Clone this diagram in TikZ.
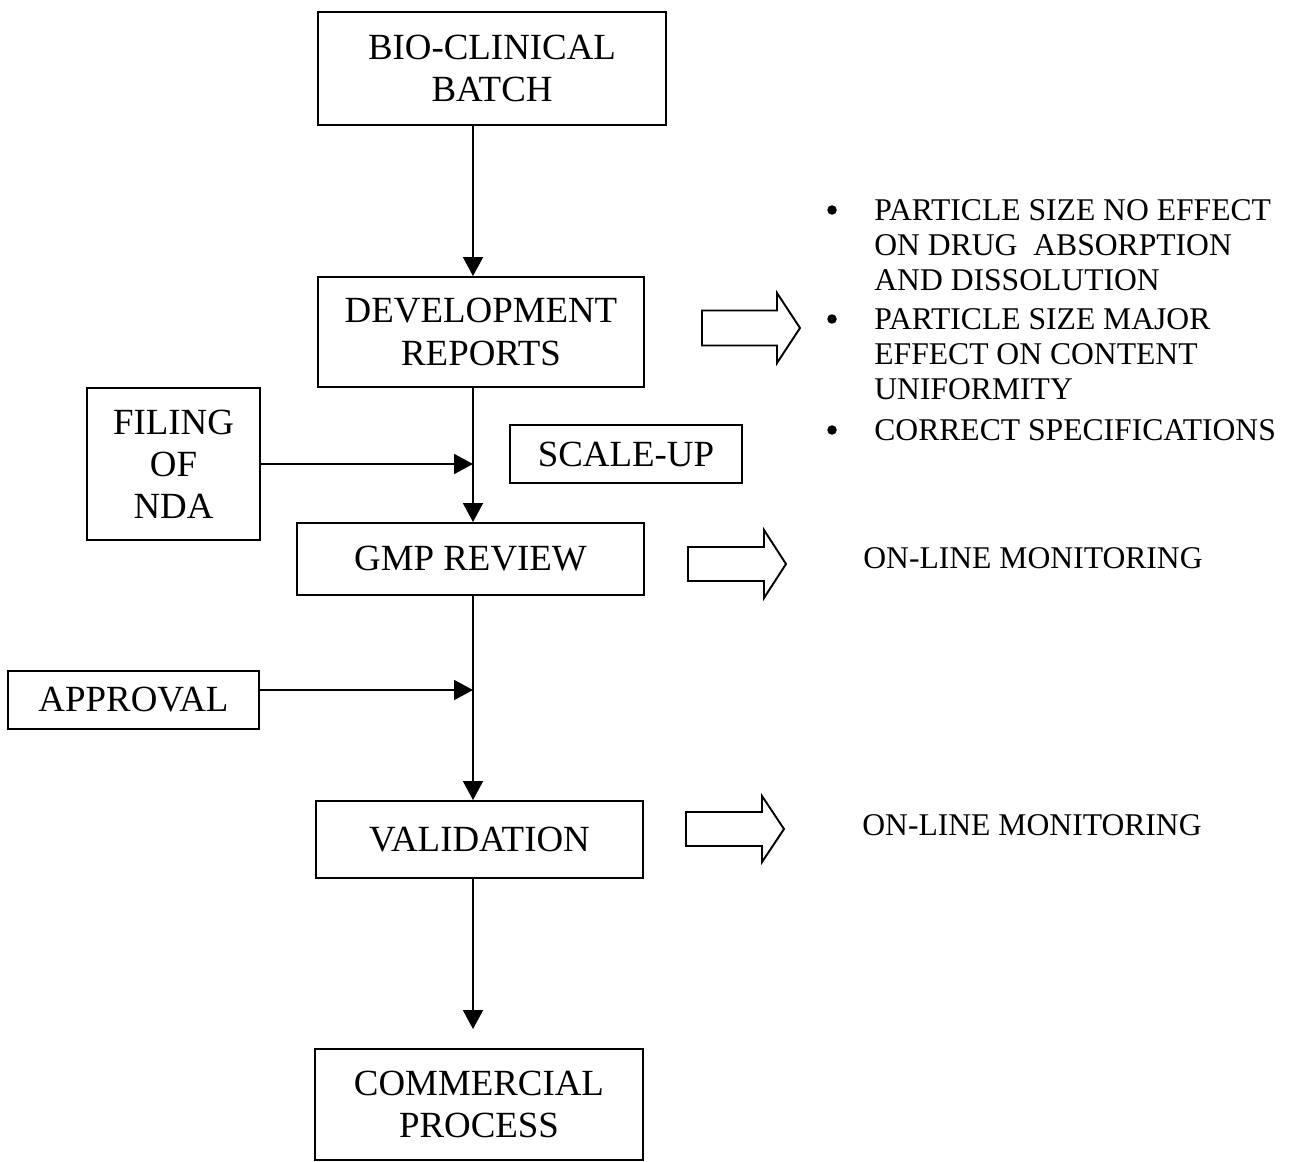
\documentclass[tikz,border=0pt]{standalone}
\usepackage{fontspec}
\setmainfont{Liberation Serif}
\usetikzlibrary{arrows.meta}

\tikzset{
    box/.style={draw, line width=1.1pt, inner sep=0pt, align=center, font=\fontsize{21}{24}\selectfont},
    flow/.style={line width=1.1pt, -{Triangle[length=0.38cm, width=0.4cm]}},
    note/.style={inner sep=0pt, align=left, anchor=west, font=\fontsize{18}{19.9}\selectfont},
    dot/.style={circle, fill, inner sep=0pt, minimum size=0.19cm},
    fat/.style={line width=1.1pt, line join=miter},
}

\begin{document}
\begin{tikzpicture}[x=0.02cm, y=-0.02cm]
    \useasboundingbox (0,0) rectangle (1299,1162);
    % main line of boxes
    \node[box, minimum width=6.96cm, minimum height=2.26cm] (bio) at (492,68.5) {BIO-CLINICAL\\BATCH};
    \node[box, minimum width=6.52cm, minimum height=2.2cm] (dev) at (481,332) {DEVELOPMENT\\REPORTS};
    \node[box, minimum width=6.94cm, minimum height=1.44cm] (gmp) at (470.5,559) {GMP REVIEW};
    \node[box, minimum width=6.54cm, minimum height=1.54cm] (valid) at (479.5,839.5) {VALIDATION};
    \node[box, minimum width=6.56cm, minimum height=2.22cm] (comm) at (479,1104.5) {COMMERCIAL\\PROCESS};
    % side boxes
    \node[box, minimum width=3.46cm, minimum height=3.04cm] (filing) at (173.5,464) {FILING\\OF\\NDA};
    \node[box, minimum width=4.64cm, minimum height=1.16cm] (scale) at (626,454) {SCALE-UP};
    \node[box, minimum width=5.02cm, minimum height=1.16cm] (approval) at (133.5,700) {APPROVAL};

    \coordinate (spine) at (473,0);
    \coordinate (ap) at ([yshift=0.2cm]approval.east);
    \draw[flow] (bio.south -| spine) -- (dev.north -| spine);
    \draw[flow] (dev.south -| spine) -- (gmp.north -| spine);
    \draw[flow] (filing.east) -- (filing.east -| spine);
    \draw[flow] (gmp.south -| spine) -- (valid.north -| spine);
    \draw[flow] (ap) -- (ap -| spine);
    \draw[flow, shorten >=0.38cm] (valid.south -| spine) -- (comm.north -| spine);

    % hollow arrows
    \draw[fat] (702,310.5) -- (777,310.5) -- (777,293) -- (800,328) -- (777,363) -- (777,345.5) -- (702,345.5) -- cycle;
    \draw[fat] (688,547) -- (764,547) -- (764,530) -- (786,564) -- (764,598) -- (764,581) -- (688,581) -- cycle;
    \draw[fat] (686,812) -- (762,812) -- (762,796) -- (784,829) -- (762,862) -- (762,846) -- (686,846) -- cycle;

    % notes
    \node[dot] (d1) at (832,210) {};
    \node[dot] (d2) at (832,319) {};
    \node[dot] (d3) at (832,430) {};
    \node[note] (n1) at (874,245) {PARTICLE SIZE NO EFFECT\\ON DRUG\ \ ABSORPTION\\AND DISSOLUTION};
    \node[note] (n2) at (874,354) {PARTICLE SIZE MAJOR\\EFFECT ON CONTENT\\UNIFORMITY};
    \node[note] (n3) at (874,430) {CORRECT SPECIFICATIONS};
    \node[note] (mon1) at (863,558) {ON-LINE MONITORING};
    \node[note] (mon2) at (862,825) {ON-LINE MONITORING};
\end{tikzpicture}
\end{document}
